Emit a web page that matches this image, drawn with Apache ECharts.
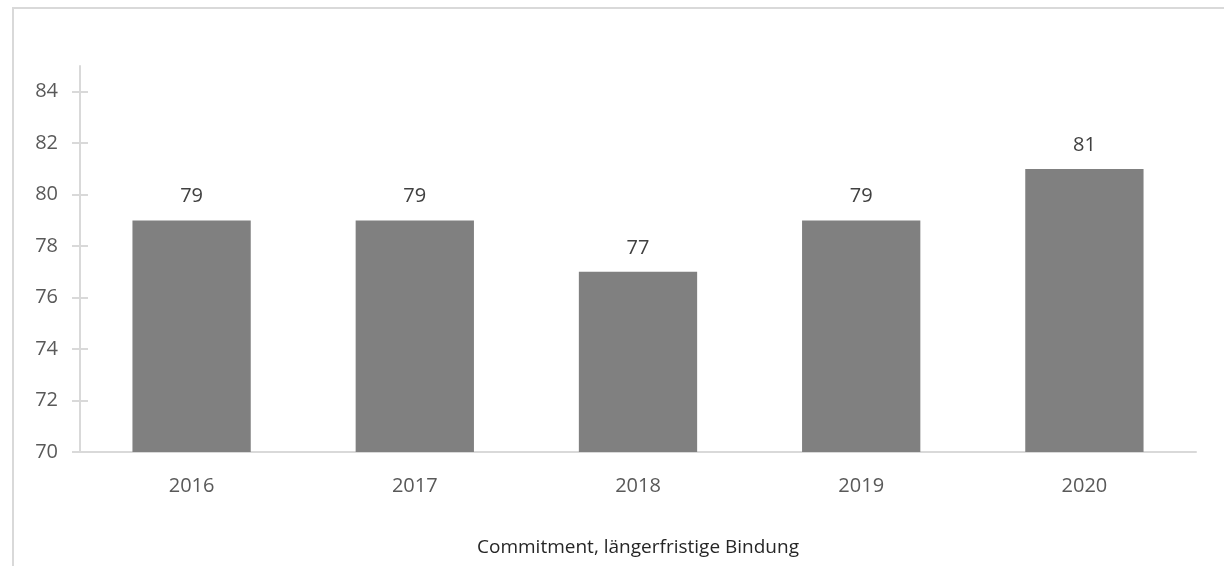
<!DOCTYPE html>
<html>
<head>
<meta charset="utf-8">
<script src="https://cdn.jsdelivr.net/npm/echarts@6/dist/echarts.min.js"></script>
<style>
  html, body { margin: 0; padding: 0; background: #fff; }
  #chart { width: 1224px; height: 566px; }
</style>
</head>
<body>
<div id="chart"></div>
<script>
// data
var years = ['2016', '2017', '2018', '2019', '2020'];
var values = [79, 79, 77, 79, 81];
var yTicks = [70, 72, 74, 76, 78, 80, 82, 84];
var axisTitle = 'Commitment, längerfristige Bindung';

var myChart = echarts.init(document.getElementById('chart'));
var font = '"Open Sans", "Noto Sans", sans-serif';
var tickStyle = { color: '#d9d9d9', width: 2 };
var option = {
  animation: false,
  graphic: [{
    type: 'rect',
    shape: { x: 13, y: 8, width: 1212, height: 600 },
    style: { fill: 'none', stroke: '#d9d9d9', lineWidth: 2 },
    silent: true
  }],
  grid: { left: 80, right: 28, top: 66, bottom: 114 },
  xAxis: {
    type: 'category',
    data: years,
    name: axisTitle,
    nameLocation: 'middle',
    nameGap: 86,
    nameTextStyle: { color: '#262626', fontSize: 19, fontFamily: font },
    axisLine: { lineStyle: tickStyle },
    axisTick: { show: false },
    axisLabel: { color: '#595959', fontSize: 20, fontFamily: font, margin: 24 }
  },
  yAxis: [{
    type: 'value',
    min: 70, max: 85, interval: 2,
    splitLine: { show: false },
    axisLine: { show: true, lineStyle: tickStyle },
    axisTick: { show: true, length: 8, lineStyle: tickStyle, customValues: yTicks },
    axisLabel: { color: '#595959', fontSize: 20, fontFamily: font, margin: 22, customValues: yTicks }
  }, {
    type: 'value',
    position: 'left',
    min: 70, max: 85, interval: 2,
    splitLine: { show: false },
    axisLine: { show: false },
    axisTick: { show: true, inside: true, length: 8, lineStyle: tickStyle, customValues: yTicks },
    axisLabel: { show: false }
  }],
  series: [{
    type: 'bar',
    data: values,
    barWidth: '53%',
    itemStyle: { color: '#808080' },
    label: {
      show: true,
      position: 'top',
      distance: 14,
      color: '#404040',
      fontSize: 20,
      fontFamily: font
    }
  }]
};
myChart.setOption(option);
window.onresize = myChart.resize;
</script>
</body>
</html>
